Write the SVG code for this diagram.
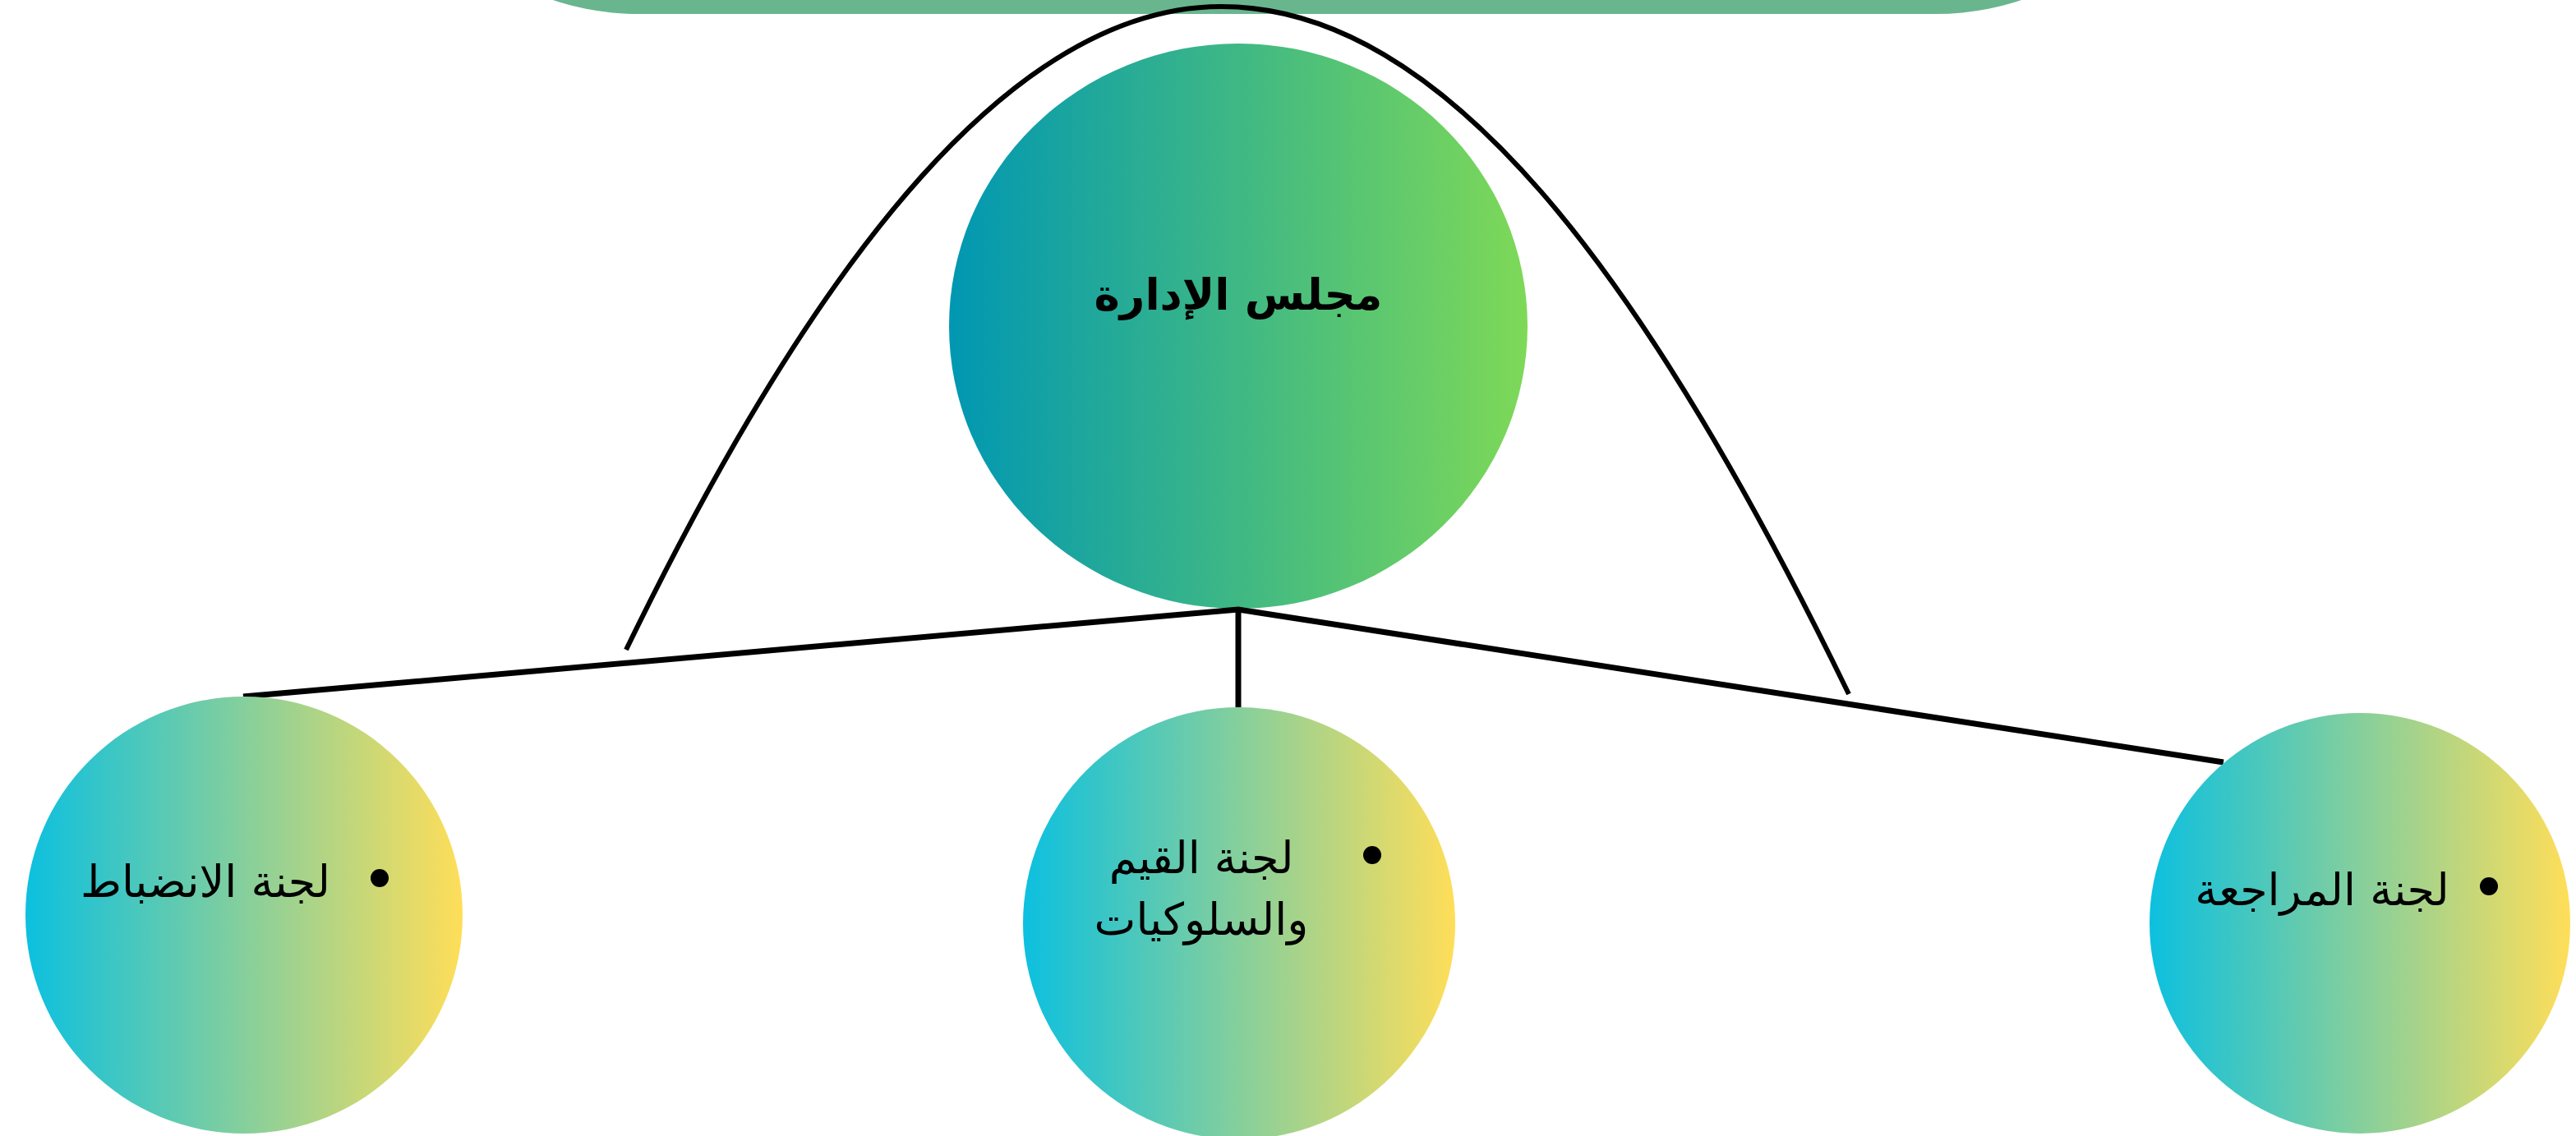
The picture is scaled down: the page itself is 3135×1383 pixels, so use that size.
<svg xmlns="http://www.w3.org/2000/svg" width="3135" height="1383" viewBox="0 0 3135 1383">
  <style>
    .lbl { font-family: "DejaVu Sans", "Noto Sans", sans-serif; font-size: 54px; fill: #000; }
    .title { font-family: "DejaVu Sans", "Noto Sans", sans-serif; font-size: 53px; font-weight: bold; fill: #000; }
    .conn { fill: none; stroke: #000; stroke-width: 7; }
    .arc { fill: none; stroke: #000; stroke-width: 6; }
  </style>
  <defs>
    <linearGradient id="gMain" x1="0" y1="0" x2="1" y2="0">
      <stop offset="0" stop-color="#0097b2"/>
      <stop offset="1" stop-color="#7ed957"/>
    </linearGradient>
    <linearGradient id="gSub" x1="0" y1="0" x2="1" y2="0">
      <stop offset="0" stop-color="#0cc0df"/>
      <stop offset="1" stop-color="#ffde59"/>
    </linearGradient>
  </defs>
  <rect width="3135" height="1383" fill="#ffffff"/>

  <g id="top-bar">
    <rect x="450" y="-700" width="2233" height="717" rx="327" ry="327" fill="#69b68e"/>
  </g>

  <g id="board">
    <ellipse cx="1507" cy="397" rx="352" ry="344" fill="url(#gMain)"/>
    <text class="title" x="1507" y="377" text-anchor="middle">مجلس الإدارة</text>
  </g>

  <g id="connectors">
    <polyline class="conn" points="296,848 1507,742 2706,928"/>
    <line class="conn" x1="1507" y1="742" x2="1507" y2="861"/>
    <path class="arc" d="M 762 791 C 1000 300, 1240 8, 1486 8 C 1756 8, 2000 330, 2250 845"/>
  </g>

  <g id="discipline">
    <circle cx="297" cy="1114" r="266" fill="url(#gSub)"/>
    <circle cx="462" cy="1069" r="11" fill="#000"/>
    <text class="lbl" x="250" y="1092" text-anchor="middle">لجنة الانضباط</text>
  </g>

  <g id="values">
    <circle cx="1508" cy="1124" r="263" fill="url(#gSub)"/>
    <circle cx="1670" cy="1041" r="11" fill="#000"/>
    <text class="lbl" x="1462" y="1063" text-anchor="middle">لجنة القيم</text>
    <text class="lbl" x="1462" y="1138" text-anchor="middle">والسلوكيات</text>
  </g>

  <g id="audit">
    <circle cx="2872" cy="1124" r="256" fill="url(#gSub)"/>
    <circle cx="3029" cy="1079" r="11" fill="#000"/>
    <text class="lbl" x="2826" y="1102" text-anchor="middle">لجنة المراجعة</text>
  </g>
</svg>
